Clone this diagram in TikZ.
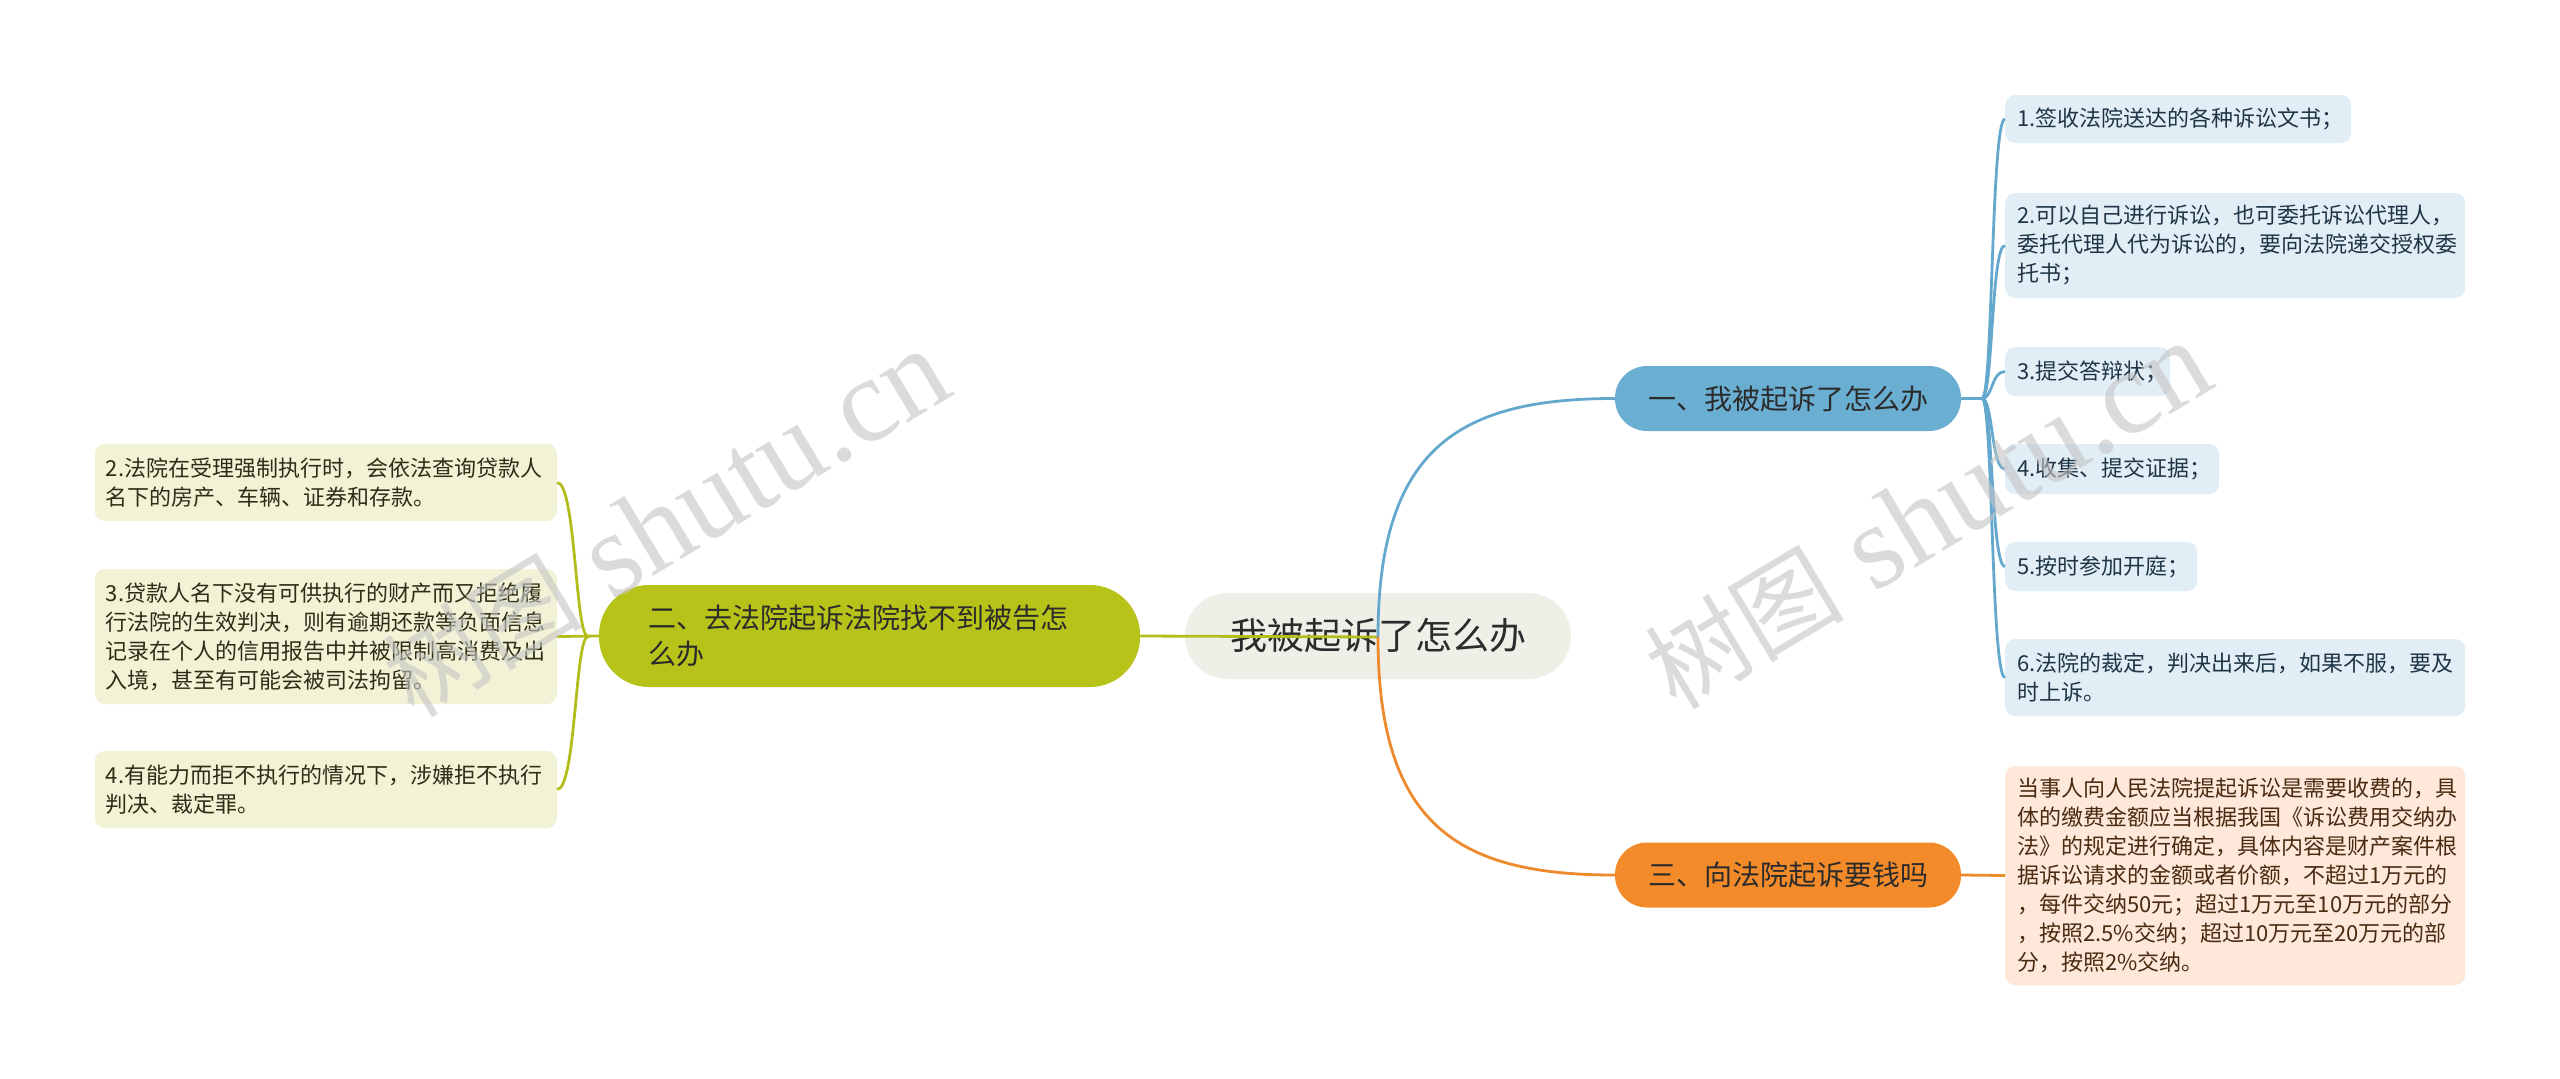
\documentclass[tikz,border=0pt]{standalone}
\usepackage{fontspec}
\setmainfont{Noto Sans CJK SC}
\newfontfamily\wmlatin{Liberation Serif}
\definecolor{rootfill}{HTML}{EFEFE8}
\definecolor{bluenode}{HTML}{6AAED2}
\definecolor{blueline}{HTML}{64A9CD}
\definecolor{bluefill}{HTML}{E1EEF6}
\definecolor{bluetext}{HTML}{1F3545}
\definecolor{orangenode}{HTML}{F48B2A}
\definecolor{orangeline}{HTML}{EE8A2E}
\definecolor{orangefill}{HTML}{FDE8D9}
\definecolor{orangetext}{HTML}{4A2A10}
\definecolor{greennode}{HTML}{B8C319}
\definecolor{greenline}{HTML}{B3BE1C}
\definecolor{greenfill}{HTML}{F1F2D6}
\definecolor{greentext}{HTML}{2E2E14}
\definecolor{maintext}{HTML}{2B2B2B}
\definecolor{wmgray}{HTML}{C4C4C4}
\tikzset{
  rootbox/.style={fill=rootfill, rounded corners=43pt, minimum width=386pt, minimum height=86pt,
    inner sep=0pt, text=maintext, font=\fontsize{37}{44}\selectfont},
  mainbox/.style={rounded corners=32pt, minimum width=346pt, minimum height=65pt, inner sep=0pt,
    text=maintext, font=\fontsize{28}{36}\selectfont},
  leafbox/.style={rounded corners=10pt, inner xsep=12pt, inner ysep=0pt, align=left,
    font=\fontsize{22}{29}\selectfont},
  bleaf/.style={leafbox, fill=bluefill, text=bluetext, anchor=west},
  oleaf/.style={leafbox, fill=orangefill, text=orangetext, anchor=west},
  gleaf/.style={leafbox, fill=greenfill, text=greentext, anchor=east, inner xsep=11pt},
  conn/.style={line width=2.8pt},
  wm/.style={text=wmgray, opacity=0.6, inner sep=0pt, font=\wmlatin\fontsize{120}{120}\selectfont}
}
\begin{document}
\begin{tikzpicture}[x=1pt, y=-1pt]
\useasboundingbox (0,0) rectangle (2560,1079);
\fill[white] (0,0) rectangle (2560,1079);

% root
\node[rootbox] (root) at (1378,636) {我被起诉了怎么办};
\coordinate (J) at (1378,637);

% main branches
\node[mainbox, fill=bluenode] (n1) at (1788,398.5) {一、我被起诉了怎么办};
\node[mainbox, fill=orangenode] (n3) at (1788,875) {三、向法院起诉要钱吗};
\node[rounded corners=50pt, fill=greennode, minimum width=541pt, minimum height=102pt,
  inner xsep=49pt, inner ysep=0pt, text width=443pt, align=left, text=maintext,
  font=\fontsize{28}{36}\selectfont] (n2) at (869.5,636) {二、去法院起诉法院找不到被告怎\\么办};

% blue leaves
\node[bleaf, text width=322pt, minimum height=48pt] (b1) at (2005,119) {1.签收法院送达的各种诉讼文书；};
\node[bleaf, text width=436pt, minimum height=105pt] (b2) at (2005,245.5) {2.可以自己进行诉讼，也可委托诉讼代理人，\\委托代理人代为诉讼的，要向法院递交授权委\\托书；};
\node[bleaf, text width=141pt, minimum height=49pt] (b3) at (2005,371.5) {3.提交答辩状；};
\node[bleaf, text width=190pt, minimum height=50pt] (b4) at (2005,469) {4.收集、提交证据；};
\node[bleaf, text width=168pt, minimum height=49pt] (b5) at (2005,566.5) {5.按时参加开庭；};
\node[bleaf, text width=436pt, minimum height=77pt] (b6) at (2005,677.5) {6.法院的裁定，判决出来后，如果不服，要及\\时上诉。};

% orange leaf
\node[oleaf, text width=436pt, minimum height=219pt] (o1) at (2005,875.5) {当事人向人民法院提起诉讼是需要收费的，具\\体的缴费金额应当根据我国《诉讼费用交纳办\\法》的规定进行确定，具体内容是财产案件根\\据诉讼请求的金额或者价额，不超过1万元的\\，每件交纳50元；超过1万元至10万元的部分\\，按照2.5\%交纳；超过10万元至20万元的部\\分，按照2\%交纳。};

% green leaves
\node[gleaf, text width=440pt, minimum height=77pt] (g2) at (557,482.5) {2.法院在受理强制执行时，会依法查询贷款人\\名下的房产、车辆、证券和存款。};
\node[gleaf, text width=440pt, minimum height=135pt] (g3) at (557,636.5) {3.贷款人名下没有可供执行的财产而又拒绝履\\行法院的生效判决，则有逾期还款等负面信息\\记录在个人的信用报告中并被限制高消费及出\\入境，甚至有可能会被司法拘留。};
\node[gleaf, text width=440pt, minimum height=77pt] (g4) at (557,789.5) {4.有能力而拒不执行的情况下，涉嫌拒不执行\\判决、裁定罪。};

% connectors from root
\draw[conn, greenline] (J) -- (n2.east);
\draw[conn, blueline] (J) .. controls (1378,446) and (1461,398.5) .. (n1.west);
\draw[conn, orangeline] (J) .. controls (1378,828) and (1461,875) .. (n3.west);

% blue branch
\coordinate (jb) at (1982,398.5);
\draw[conn, blueline] (n1.east) -- (jb);
\foreach \c in {b1,b2,b3,b4,b5,b6}{
  \draw[conn, blueline] (jb) .. controls (1993,398.5) and (1991,0|-\c.west) .. (\c.west);
}

% orange branch
\draw[conn, orangeline] (n3.east) -- (o1.west);

% green branch
\coordinate (jg) at (588,636.5);
\draw[conn, greenline] (n2.west) -- (g3.east);
\foreach \c in {g2,g4}{
  \draw[conn, greenline] (jg) .. controls (575,636.5) and (576,0|-\c.east) .. (\c.east);
}

% watermarks
\node[wm, rotate=31] (wm1) at (666,524) {{\fontspec{Noto Sans CJK SC}\fontsize{100}{100}\selectfont 树图} shutu.cn};
\node[wm, rotate=31] (wm2) at (1928,516) {{\fontspec{Noto Sans CJK SC}\fontsize{100}{100}\selectfont 树图} shutu.cn};
\end{tikzpicture}
\end{document}
